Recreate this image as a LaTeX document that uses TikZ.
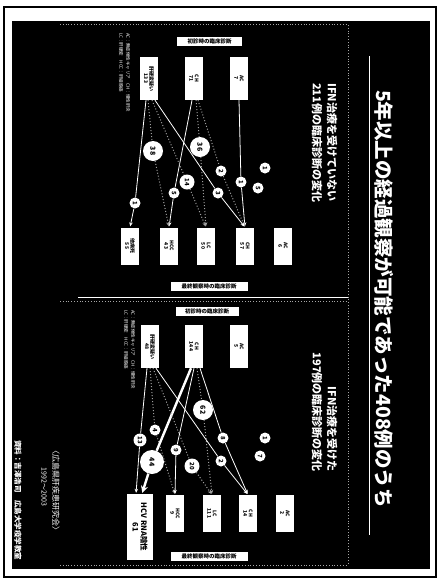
\documentclass[tikz,border=0pt]{standalone}
\usepackage{fontspec}
\setmainfont{Noto Sans CJK JP}
\usetikzlibrary{arrows.meta,calc}
\begin{document}
\begin{tikzpicture}[x=1pt,y=-1pt,
  box/.style={fill=white,text=black,rotate=-90,minimum width=43pt,minimum height=18pt,inner sep=0.5pt,align=center,font=\fontsize{5}{5.5}\selectfont\bfseries},
  tbox/.style={box,minimum width=37pt},
  lab/.style={fill=white,text=black,inner sep=0pt,minimum height=9pt,font=\fontsize{5.5}{6}\selectfont\bfseries},
  num/.style={circle,fill=white,text=black,inner sep=0pt,minimum size=11pt,rotate=-90,font=\fontsize{6}{6}\selectfont\bfseries},
  midnum/.style={num,minimum size=15pt},
  bignum/.style={num,minimum size=20pt,font=\fontsize{7}{7}\selectfont\bfseries},
  wtext/.style={text=white,rotate=-90,inner sep=0pt},
  sline/.style={white,line width=0.8pt,-{Stealth[length=4pt,width=3.5pt]},shorten >=1pt},
  dline/.style={gray!75!white,dotted,line width=1pt,-{Stealth[length=4pt,width=3.5pt]},shorten >=1pt},
  thick line/.style={white,line width=2.4pt,-{Stealth[length=7pt,width=7pt]},shorten >=1pt},
  rule/.style={white,line width=0.8pt},
  dotrule/.style={gray!70!white,dotted,line width=0.8pt}
]
\useasboundingbox (0,0) rectangle (442,582);
\fill[white] (0,0) rectangle (442,582);
\draw[black,line width=1.2pt] (4,7) rectangle (436,577);
\fill[black] (12,21) rectangle (430,569);

% frame rules
\coordinate (vr1) at (348,25);
\coordinate (vr2) at (348,565);
\draw[dotrule] (vr1) -- (vr2);
\coordinate (hd1) at (78,297);
\coordinate (hd2) at (348,297);
\draw[rule] (hd1) -- (hd2);
\coordinate (hd3) at (60,301);
\coordinate (hd4) at (348,301);
\draw[dotrule] (hd3) -- (hd4);
\coordinate (ht1) at (60,24);
\coordinate (ht2) at (348,24);
\draw[dotrule] (ht1) -- (ht2);
\coordinate (hb1) at (60,565);
\coordinate (hb2) at (348,565);
\draw[dotrule] (hb1) -- (hb2);

% title
\node[wtext,font=\fontsize{19.5}{20}\selectfont\bfseries] (title) at (384,299) {5年以上の経過観察が可能であった408例のうち};
\coordinate (ul1) at (369,56);
\coordinate (ul2) at (369,535);
\draw[rule] (ul1) -- (ul2);

% subtitles
\node[wtext,anchor=west,font=\fontsize{11}{11}\selectfont\bfseries] (subL1) at (332,83) {IFN治療を受けていない};
\node[wtext,anchor=west,font=\fontsize{11}{11}\selectfont\bfseries] (subL2) at (317,83) {211例の臨床診断の変化};
\node[wtext,anchor=east,font=\fontsize{11}{11}\selectfont\bfseries] (subR1) at (332,472) {IFN治療を受けた};
\node[wtext,anchor=east,font=\fontsize{11}{11}\selectfont\bfseries] (subR2) at (317,472) {197例の臨床診断の変化};

% ---------- left panel ----------
\node[lab,minimum width=65pt] (hL) at (209.5,41) {初診時の臨床診断};
\node[lab,minimum width=77pt] (fL) at (209,286) {最終観察時の臨床診断};
\node[box] (LS1) at (239,78.5) {AC\\7};
\node[box] (LS2) at (194,78.5) {CH\\71};
\node[box] (LS3) at (149,78.5) {肝硬変疑い\\133};
\node[tbox] (LT1) at (130,246) {他病死\\55};
\node[tbox] (LT2) at (169,246) {HCC\\43};
\node[tbox] (LT3) at (206,246) {LC\\50};
\node[tbox] (LT4) at (245,246) {CH\\57};
\node[tbox] (LT5) at (283,246) {AC\\6};
\node[wtext,font=\fontsize{4.5}{4.5}\selectfont,anchor=west] (noteL1) at (128,33) {AC：無症候性キャリア　CH：慢性肝炎};
\node[wtext,font=\fontsize{4.5}{4.5}\selectfont,anchor=west] (noteL2) at (121,33) {LC：肝硬変　HCC：肝細胞癌};

\node[num] (l1a) at (241,182) {1};
\node[num] (l5) at (174,193) {5};
\node[bignum] (l36) at (200,147) {36};
\node[num] (l2) at (221,171) {2};
\node[num] (l1b) at (135,203) {1};
\node[bignum] (l38) at (153,151) {38};
\node[midnum] (l14) at (187,182) {14};
\node[num] (l3) at (218,193) {3};
\node[num] (lf1) at (265,168) {1};
\node[num] (lf5) at (258,188) {5};

\draw[sline] (LS1.east) -- (l1a) -- (LT4.west);
\draw[sline] ($(LS2.east)+(-2,0)$) -- (l5) -- (LT2.west);
\draw[dline] ($(LS2.east)+(2,0)$) -- (l36) -- (LT3.west);
\draw[dline] ($(LS2.east)+(4,0)$) -- (l2) -- (LT4.west);
\draw[sline] ($(LS3.east)+(-3,0)$) -- (l1b) -- (LT1.west);
\draw[dline] ($(LS3.east)+(-1,0)$) -- (l38) -- (LT2.west);
\draw[dline] ($(LS3.east)+(3,0)$) -- (l14) -- (LT3.west);
\draw[sline] ($(LS3.east)+(6,0)$) -- (l3) -- (LT4.west);

% ---------- right panel ----------
\node[lab,minimum width=63pt] (hR) at (207,311) {初診時の臨床診断};
\node[lab,minimum width=77pt] (fR) at (209,556) {最終観察時の臨床診断};
\node[box] (RS1) at (239,346.5) {AC\\5};
\node[box] (RS2) at (194,346.5) {CH\\144};
\node[box] (RS3) at (150,346.5) {肝硬変疑い\\48};
\node[fill=white,text=black,rotate=-90,minimum width=66pt,minimum height=26pt,inner sep=1pt,align=center,font=\fontsize{7.5}{8.5}\selectfont\bfseries] (RT1) at (140,527) {HCV RNA陰性\\61};
\node[tbox] (RT2) at (175,513.5) {HCC\\9};
\node[tbox] (RT3) at (212,513.5) {LC\\111};
\node[tbox] (RT4) at (248,513.5) {CH\\14};
\node[tbox] (RT5) at (285,513.5) {AC\\2};
\node[wtext,font=\fontsize{4.5}{4.5}\selectfont,anchor=west] (noteR1) at (133,310) {AC：無症候性キャリア　CH：慢性肝炎};
\node[wtext,font=\fontsize{4.5}{4.5}\selectfont,anchor=west] (noteR2) at (126,310) {LC：肝硬変　HCC：肝細胞癌};

\node[num,minimum size=13pt] (r13) at (140,440) {13};
\node[num] (r4) at (155,430) {4};
\node[bignum,minimum size=24pt] (r44) at (152,462) {44};
\node[num] (r9) at (176,450) {9};
\node[midnum] (r20) at (192,466) {20};
\node[bignum] (r62) at (203,410) {62};
\node[num] (r8) at (223,438) {8};
\node[num] (r2) at (221,461) {2};
\node[num] (rf1) at (265,438) {1};
\node[num] (rf7) at (260,456) {7};

\draw[sline] ($(RS3.east)+(-3,0)$) -- (r13) -- ($(RT1.west)+(-4,0)$);
\draw[dline] ($(RS3.east)+(0,0)$) -- (r4) -- (RT2.west);
\draw[thick line] ($(RS2.east)+(-3,0)$) -- (r44) -- ($(RT1.west)+(2,0)$);
\draw[sline] (RS2.east) -- (r9) -- (RT2.west);
\draw[dline] ($(RS3.east)+(3,0)$) -- (r20) -- (RT3.west);
\draw[dline] ($(RS2.east)+(3,0)$) -- (r62) -- (RT3.west);
\draw[sline] ($(RS2.east)+(6,0)$) -- (r8) -- (RT4.west);
\draw[sline] ($(RS3.east)+(6,0)$) -- (r2) -- (RT4.west);

% footer
\node[wtext,anchor=west,font=\fontsize{8}{8}\selectfont] (src1) at (56,446) {〈広島県肝疾患研究会〉};
\node[wtext,font=\fontsize{7}{7}\selectfont] (src2) at (44,487) {1992～2003};
\node[wtext,font=\fontsize{7.5}{7.5}\selectfont\bfseries] (src3) at (18,500) {資料：吉澤浩司　広島大学疫学教室};
\end{tikzpicture}
\end{document}
